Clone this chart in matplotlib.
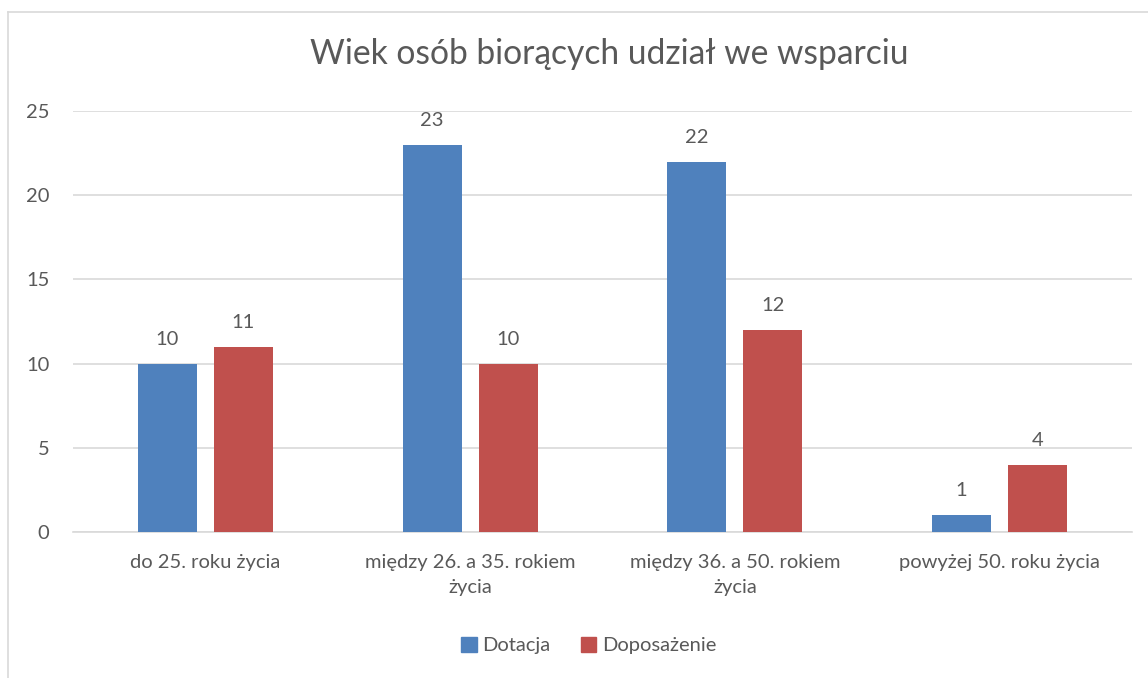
import matplotlib
matplotlib.use("Agg")
import matplotlib.pyplot as plt
import numpy as np
from matplotlib.lines import Line2D

categories = ["do 25. roku życia", "między 26. a 35. rokiem\nżycia",
              "między 36. a 50. rokiem\nżycia", "powyżej 50. roku życia"]
dotacja = [10, 23, 22, 1]
doposazenie = [11, 10, 12, 4]
series_names = ["Dotacja", "Doposażenie"]
yticks = [0, 5, 10, 15, 20, 25]

BLUE = "#4F81BD"
RED = "#C0504D"
TXT = "#595959"
FS = 14.5

plt.rcParams["font.family"] = ["Lato", "DejaVu Sans"]

fig = plt.figure(figsize=(11.48, 6.78), dpi=100)
ax = fig.add_axes([0.0636, 0.2153, 0.9224, 0.621])

x = np.arange(len(categories))
w = 0.223
off = (w + 0.064) / 2
b1 = ax.bar(x - off, dotacja, w, color=BLUE, label=series_names[0], zorder=3)
b2 = ax.bar(x + off, doposazenie, w, color=RED, label=series_names[1], zorder=3)

for bars in (b1, b2):
    for r in bars:
        ax.text(r.get_x() + r.get_width() / 2, r.get_height() + 0.95,
                f"{int(r.get_height())}", ha="center", va="bottom",
                fontsize=FS, color=TXT)

ax.set_xlim(-0.5, len(categories) - 0.5)
ax.set_ylim(0, 25)
ax.set_yticks(yticks)
ax.set_xticks(x)
ax.set_xticklabels(categories, fontsize=FS, color=TXT, linespacing=1.55)
ax.tick_params(axis="y", labelsize=FS, labelcolor=TXT, length=0, pad=17)
ax.tick_params(axis="x", length=0, pad=16)
ax.grid(axis="y", color="#D9D9D9", linewidth=1.2, zorder=0)
for s in ("top", "right", "left"):
    ax.spines[s].set_visible(False)
ax.spines["bottom"].set_color("#D9D9D9")
ax.spines["bottom"].set_linewidth(1.2)

fig.text(0.531, 0.92, "Wiek osób biorących udział we wsparciu",
         ha="center", va="center", fontsize=24.2, color=TXT)

handles = [plt.Rectangle((0, 0), 1, 1, color=BLUE), plt.Rectangle((0, 0), 1, 1, color=RED)]
fig.legend(handles, series_names, loc="center", bbox_to_anchor=(0.513, 0.048),
           ncol=2, frameon=False, fontsize=FS, handlelength=0.75, handleheight=0.75,
           handletextpad=0.3, columnspacing=1.5, labelcolor=TXT)

# outer chart border (top and left visible)
fig.add_artist(Line2D([0.007, 1.0], [0.982, 0.982], color="#D9D9D9", lw=1.2, transform=fig.transFigure))
fig.add_artist(Line2D([0.007, 0.007], [0.0, 0.982], color="#D9D9D9", lw=1.2, transform=fig.transFigure))

fig.savefig("out.png", dpi=100)
